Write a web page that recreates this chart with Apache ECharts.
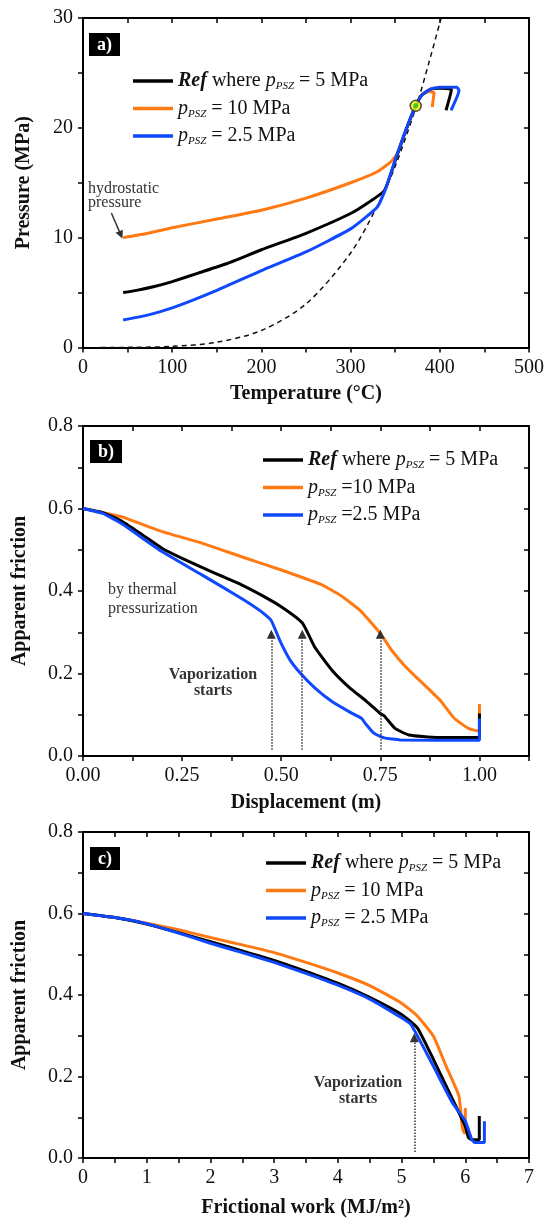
<!DOCTYPE html>
<html>
<head>
<meta charset="utf-8">
<script src="https://cdn.jsdelivr.net/npm/echarts@6/dist/echarts.min.js"></script>
<style>
  html, body {margin: 0; padding: 0; background: #fff;}
  #chart {width: 548px; height: 1219px;}
</style>
</head>
<body>
<div id="chart"></div>
<script>
// panel a: temperature (°C) vs pressure (MPa)
const refA = [[45,5],[60,5.2],[80,5.55],[100,6.0],[130,6.8],[160,7.6],[200,8.9],[250,10.4],[300,12.2],[320,13.2],[338,14.3],[350,17.0],[362,19.8],[373,22],[380,23.0],[389,23.5],[400,23.6],[413,23.5],[407,21.6]];
const p10A = [[45,10],[70,10.35],[100,10.9],[150,11.7],[200,12.5],[250,13.6],[300,15.0],[330,16.0],[345,16.9],[352,17.6],[362,19.8],[373,22],[380,23.0],[388,23.3],[393.5,23.2],[391.5,21.9]];
const p25A = [[45,2.5],[70,2.9],[100,3.6],[150,5.2],[200,7.0],[250,8.7],[300,10.8],[330,12.8],[340,14.6],[350,17.1],[362,19.8],[373,22.0],[380,23.0],[389,23.5],[400,23.7],[419,23.7],[421.5,23.4],[412.6,21.6]];
const satA = [[20,0],[60,0.02],[100,0.1],[150,0.48],[200,1.55],[250,3.97],[300,8.6],[330,12.9],[350,16.5],[374,22.06],[388,26],[401.5,30]];
const critPoint = [[373,22]];
const hydroArrow = [[31.8,12.25],[42.4,10.25]];

// panel b: displacement (m) vs apparent friction
const refB = [[0,0.6],[0.05,0.59],[0.1,0.568],[0.15,0.536],[0.2,0.503],[0.25,0.479],[0.3,0.457],[0.35,0.436],[0.4,0.415],[0.45,0.39],[0.5,0.362],[0.553,0.323],[0.584,0.265],[0.628,0.208],[0.672,0.166],[0.716,0.132],[0.75,0.103],[0.76,0.097],[0.787,0.067],[0.822,0.051],[0.893,0.045],[1.0,0.045],[1.0,0.103]];
const p10B = [[0,0.6],[0.05,0.59],[0.1,0.579],[0.2,0.544],[0.3,0.516],[0.4,0.483],[0.5,0.451],[0.6,0.416],[0.65,0.389],[0.7,0.352],[0.75,0.297],[0.778,0.257],[0.813,0.217],[0.857,0.176],[0.9,0.136],[0.91,0.124],[0.937,0.091],[0.972,0.067],[0.996,0.061],[1.0,0.061],[1.0,0.126]];
const p25B = [[0,0.6],[0.05,0.588],[0.1,0.562],[0.15,0.528],[0.2,0.495],[0.3,0.439],[0.4,0.382],[0.45,0.35],[0.475,0.328],[0.496,0.281],[0.522,0.233],[0.549,0.2],[0.584,0.166],[0.628,0.132],[0.672,0.107],[0.703,0.091],[0.712,0.079],[0.734,0.055],[0.76,0.044],[0.8,0.039],[1.0,0.038],[1.0,0.091]];
const vaporB = [0.475, 0.553, 0.75];

// panel c: frictional work (MJ/m2) vs apparent friction
const refC = [[0,0.6],[0.5,0.59],[1,0.574],[1.5,0.553],[2,0.531],[2.5,0.508],[3,0.485],[3.5,0.458],[4,0.429],[4.5,0.394],[5,0.352],[5.25,0.319],[5.5,0.242],[5.8,0.144],[6.0,0.078],[6.05,0.05],[6.1,0.045],[6.22,0.045],[6.22,0.103]];
const p10C = [[0,0.6],[0.5,0.59],[1,0.576],[1.5,0.56],[2,0.541],[2.5,0.523],[3,0.504],[3.5,0.48],[4,0.454],[4.5,0.423],[5,0.38],[5.25,0.348],[5.5,0.299],[5.7,0.225],[5.9,0.152],[5.95,0.08],[5.98,0.062],[6.0,0.062],[6.0,0.123]];
const p25C = [[0,0.6],[0.5,0.59],[1,0.575],[1.5,0.552],[2,0.527],[2.5,0.504],[3,0.48],[3.5,0.453],[4,0.424],[4.5,0.39],[5,0.344],[5.15,0.327],[5.5,0.225],[5.8,0.135],[6.0,0.091],[6.1,0.046],[6.15,0.038],[6.3,0.038],[6.3,0.09]];
const vaporC = [5.2];
const arrowFrom = 0.015, arrowTo = 0.295;

const FONT = '"Liberation Serif", "Times New Roman", serif';
const BLACK = '#000', ORANGE = '#ff7a12', BLUE = '#0f48ff';

function isStep(v, s) {
  const r = v / s;
  return Math.abs(r - Math.round(r)) < 1e-6;
}

function axisPair(dim, grid, min, max, step, labelStep, digits, name, nameGap) {
  const main = {
    type: 'value', gridIndex: grid, min: min, max: max, interval: step,
    position: dim === 'x' ? 'bottom' : 'left',
    name: name, nameLocation: 'middle', nameGap: nameGap,
    nameTextStyle: {fontFamily: FONT, fontSize: 20, fontWeight: 'bold', color: '#111'},
    axisLine: {onZero: false, lineStyle: {color: BLACK, width: 2}},
    axisTick: {length: 5, lineStyle: {color: BLACK, width: 1.5}},
    axisLabel: {
      interval: 0, hideOverlap: false, margin: 10,
      fontFamily: FONT, fontSize: 20, color: '#111',
      formatter: v => isStep(v, labelStep) ? v.toFixed(digits) : ''
    },
    splitLine: {show: false}
  };
  const mirror = {
    type: 'value', gridIndex: grid, min: min, max: max, interval: step,
    position: dim === 'x' ? 'top' : 'right',
    axisLine: {onZero: false, lineStyle: {color: BLACK, width: 2}},
    axisTick: {inside: true, length: 5, lineStyle: {color: BLACK, width: 1.5}},
    axisLabel: {show: false},
    splitLine: {show: false}
  };
  return [main, mirror];
}

function curve(name, color, data, axis) {
  return {
    name: name, type: 'line', data: data, symbol: 'none', smooth: 0.15,
    xAxisIndex: axis, yAxisIndex: axis,
    lineStyle: {color: color, width: 3}, itemStyle: {color: color},
    z: 3
  };
}

function vaporArrows(xs) {
  return {
    silent: true, symbol: ['none', 'triangle'], symbolSize: 9,
    label: {show: false},
    lineStyle: {type: 'dotted', color: '#333', width: 1.5},
    itemStyle: {color: '#333'},
    data: xs.map(x => [{coord: [x, arrowFrom]}, {coord: [x, arrowTo]}])
  };
}

const legendRich = {
  b: {fontFamily: FONT, fontSize: 20, fontWeight: 'bold', fontStyle: 'italic', lineHeight: 22, color: '#111'},
  i: {fontFamily: FONT, fontSize: 20, fontStyle: 'italic', lineHeight: 22, color: '#111'},
  s: {fontFamily: FONT, fontSize: 11, fontStyle: 'italic', lineHeight: 12, verticalAlign: 'bottom', color: '#111'}
};

function legendAt(left, top, labels) {
  return {
    left: left, top: top, orient: 'vertical', selectedMode: false,
    data: ['ref', 'p10', 'p25'],
    icon: 'rect', itemWidth: 40, itemHeight: 3.5, itemGap: 5.5,
    formatter: n => labels[n],
    textStyle: {fontFamily: FONT, fontSize: 20, lineHeight: 22, color: '#111', rich: legendRich}
  };
}

const labelsAC = {
  ref: '{b|Ref} where {i|p}{s|PSZ} = 5 MPa',
  p10: '{i|p}{s|PSZ} = 10 MPa',
  p25: '{i|p}{s|PSZ} = 2.5 MPa'
};
const labelsB = {
  ref: '{b|Ref} where {i|p}{s|PSZ} = 5 MPa',
  p10: '{i|p}{s|PSZ} =10 MPa',
  p25: '{i|p}{s|PSZ} =2.5 MPa'
};

function panelTag(text, left, top) {
  return {
    text: text, left: left, top: top, backgroundColor: '#000', padding: [3, 8, 2, 8],
    textStyle: {color: '#fff', fontFamily: FONT, fontWeight: 'bold', fontSize: 18}
  };
}

const chart = echarts.init(document.getElementById('chart'));
chart.setOption({
  animation: false,
  backgroundColor: '#fff',
  grid: [
    {left: 83, top: 18, width: 446, height: 329.5},
    {left: 83, top: 426, width: 446, height: 330},
    {left: 83, top: 832, width: 446, height: 327}
  ],
  xAxis: [].concat(
    axisPair('x', 0, 0, 500, 50, 100, 0, 'Temperature (°C)', 36),
    axisPair('x', 1, 0, 1.125, 0.125, 0.25, 2, 'Displacement (m)', 37),
    axisPair('x', 2, 0, 7, 0.5, 1, 0, 'Frictional work (MJ/m²)', 40)
  ),
  yAxis: [].concat(
    axisPair('y', 0, 0, 30, 5, 10, 0, 'Pressure (MPa)', 49),
    axisPair('y', 1, 0, 0.8, 0.1, 0.2, 1, 'Apparent friction', 53),
    axisPair('y', 2, 0, 0.8, 0.1, 0.2, 1, 'Apparent friction', 53)
  ),
  title: [panelTag('a)', 89, 33), panelTag('b)', 90, 440), panelTag('c)', 90, 847)],
  legend: [
    legendAt(128, 65, labelsAC),
    legendAt(258, 444, labelsB),
    legendAt(261, 847, labelsAC)
  ],
  graphic: [
    {type: 'text', x: 88, y: 182, style: {text: 'hydrostatic\npressure', fontFamily: FONT, fontSize: 16, lineHeight: 14, fill: '#333'}},
    {type: 'text', x: 108, y: 580, style: {text: 'by thermal\npressurization', fontFamily: FONT, fontSize: 16, lineHeight: 19, fill: '#333'}},
    {type: 'text', x: 213, y: 667, style: {text: 'Vaporization\nstarts', align: 'center', fontFamily: FONT, fontSize: 16, fontWeight: 'bold', lineHeight: 16, fill: '#333'}},
    {type: 'text', x: 358, y: 1075, style: {text: 'Vaporization\nstarts', align: 'center', fontFamily: FONT, fontSize: 16, fontWeight: 'bold', lineHeight: 16, fill: '#333'}}
  ],
  series: [
    {
      name: 'sat', type: 'line', data: satA, symbol: 'none', smooth: 0.3,
      xAxisIndex: 0, yAxisIndex: 0,
      lineStyle: {color: '#111', width: 1.5, type: [5, 4]}, z: 2,
      markLine: {
        silent: true, symbol: ['none', 'triangle'], symbolSize: 8,
        label: {show: false},
        lineStyle: {type: 'solid', color: '#333', width: 1.5},
        itemStyle: {color: '#333'},
        data: [[{coord: hydroArrow[0]}, {coord: hydroArrow[1]}]]
      }
    },
    curve('p10', ORANGE, p10A, 0),
    curve('ref', BLACK, refA, 0),
    curve('p25', BLUE, p25A, 0),
    {
      type: 'scatter', data: critPoint, xAxisIndex: 0, yAxisIndex: 0, symbolSize: 11, z: 5,
      itemStyle: {color: '#f2f000', borderColor: '#222', borderWidth: 1.5}
    },
    {
      type: 'scatter', data: critPoint, xAxisIndex: 0, yAxisIndex: 0, symbolSize: 5, z: 6,
      itemStyle: {color: '#22c21e'}
    },
    Object.assign(curve('p10', ORANGE, p10B, 2), {markLine: vaporArrows(vaporB)}),
    curve('ref', BLACK, refB, 2),
    curve('p25', BLUE, p25B, 2),
    Object.assign(curve('p10', ORANGE, p10C, 4), {markLine: vaporArrows(vaporC)}),
    curve('ref', BLACK, refC, 4),
    curve('p25', BLUE, p25C, 4)
  ]
});
</script>
</body>
</html>
